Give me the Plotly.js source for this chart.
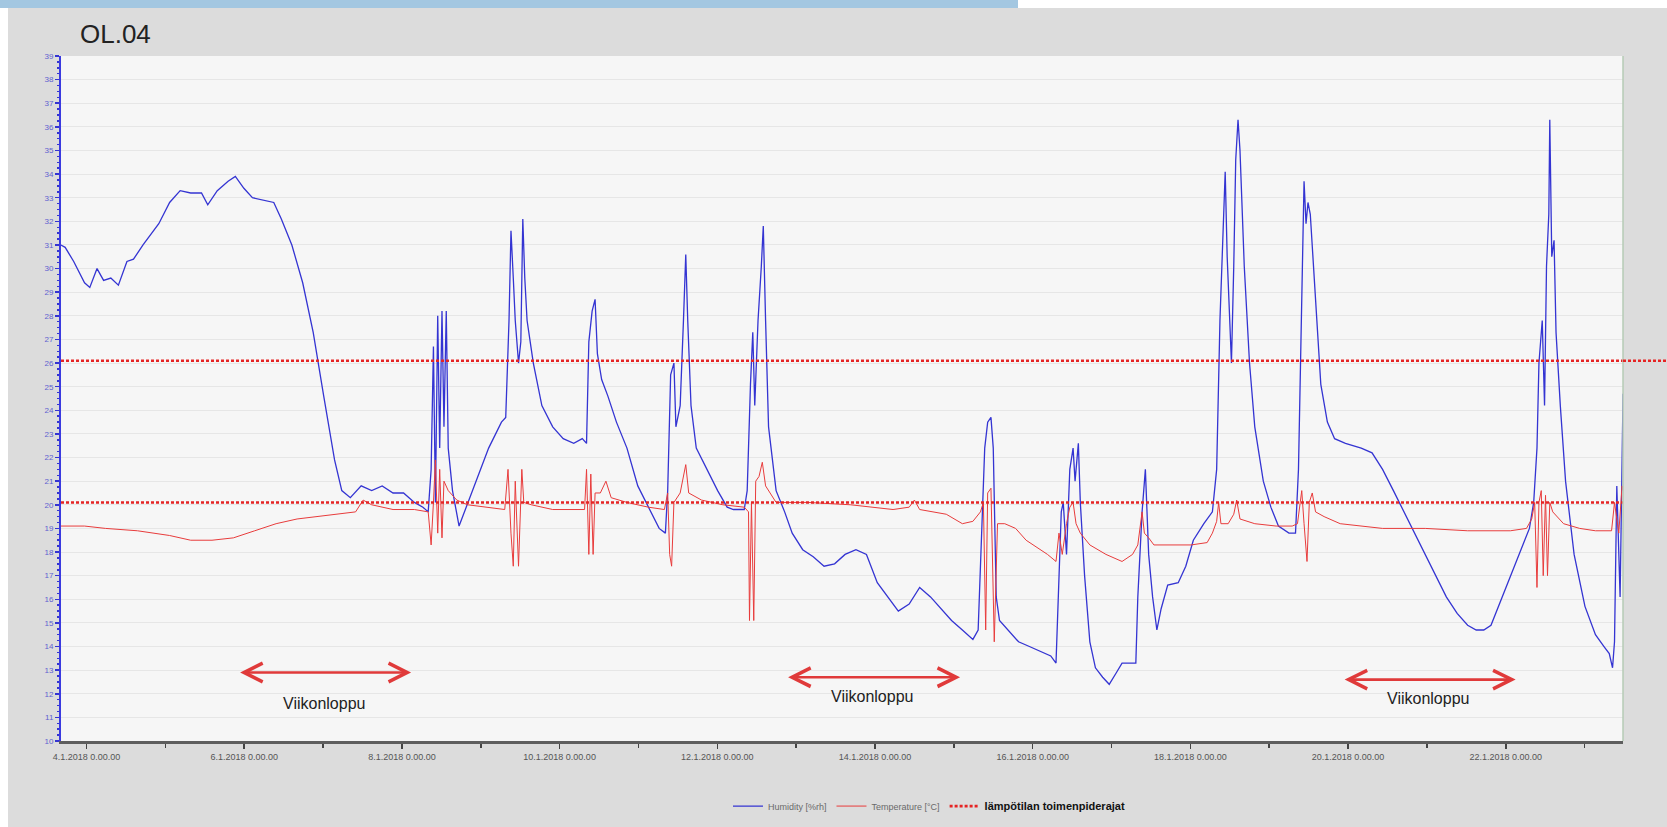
<!DOCTYPE html>
<html>
<head>
<meta charset="utf-8">
<script src="https://cdn.plot.ly/plotly-3.0.1.min.js"></script>
<style>
  html, body { margin: 0; padding: 0; background: #ffffff; width: 1667px; height: 827px; overflow: hidden; }
  #bar { position: absolute; left: 0; top: 0; width: 1018px; height: 8px; background: #a3c7e1; }
  #chart { position: absolute; left: 8px; top: 8px; width: 1659px; height: 819px; }
</style>
</head>
<body>
<div id="bar"></div>
<div id="chart"></div>
<script>
// Hours since 4.1.2018 0:00 and readings
const humHours = [-7.8,-6.5,-3.9,-0.6,1.0,3.2,5.2,7.4,9.7,12.3,14.3,17.2,22.0,25.3,28.5,31.7,35.0,36.9,39.8,43.1,45.3,47.9,50.5,53.8,57.0,59.3,62.5,65.8,69.0,72.2,75.5,77.7,80.3,83.6,86.8,90.0,93.3,96.5,99.8,102.4,104.0,104.9,105.6,106.2,106.9,107.5,108.2,108.8,109.5,110.1,111.4,113.4,117.6,122.4,126.3,127.6,128.6,129.2,129.9,130.5,131.5,132.2,132.8,133.4,134.1,136.0,138.6,141.9,145.1,148.3,150.9,152.2,152.9,153.9,154.8,155.5,156.8,158.7,161.3,164.5,167.8,171.7,174.3,176.2,176.9,177.8,178.8,179.4,180.7,181.7,182.4,183.0,184.0,185.6,188.8,192.1,195.0,196.9,200.2,201.1,202.1,202.8,203.4,204.4,205.4,206.0,206.7,207.6,209.9,212.5,214.8,218.0,221.2,224.5,227.7,230.9,234.2,237.4,240.7,243.9,247.1,250.4,253.6,256.9,260.1,263.3,266.6,269.8,271.4,272.4,273.4,274.3,275.3,276.0,276.9,277.9,280.5,283.7,287.0,290.2,293.5,295.1,296.0,296.7,297.3,298.3,299.3,300.3,300.9,301.9,302.5,303.8,305.4,307.1,309.3,311.3,313.5,315.2,317.4,319.4,320.0,321.3,322.3,323.3,324.5,325.8,327.1,329.1,332.3,334.6,336.9,340.1,342.7,344.0,345.0,345.9,346.6,347.2,347.9,348.5,349.2,349.8,350.5,351.1,352.4,354.0,355.6,358.2,360.5,362.8,366.0,368.0,368.9,369.9,370.6,371.2,371.8,372.5,373.1,374.4,375.7,377.7,379.9,383.2,388.0,391.3,394.5,397.8,401.0,404.2,407.5,410.7,413.9,417.2,420.4,423.0,425.3,427.5,430.1,433.4,436.6,439.2,440.5,441.5,442.1,443.1,443.8,444.4,445.1,445.4,446.0,446.7,447.3,448.6,450.2,452.8,456.1,459.3,461.9,463.5,464.5,465.1,465.8,466.8,467.7];
const humValues = [31.0,30.9,30.3,29.4,29.2,30.0,29.5,29.6,29.3,30.3,30.4,31.0,31.9,32.8,33.3,33.2,33.2,32.7,33.3,33.7,33.9,33.4,33.0,32.9,32.8,32.1,31.0,29.4,27.3,24.6,21.9,20.6,20.3,20.8,20.6,20.8,20.5,20.5,20.1,19.9,19.7,21.5,26.7,20.1,28.0,22.4,28.2,23.3,28.2,22.4,20.6,19.1,20.6,22.4,23.5,23.7,27.8,31.6,29.6,27.8,26.0,26.9,32.1,29.6,27.8,26.0,24.2,23.3,22.8,22.6,22.8,22.6,26.9,28.2,28.7,26.4,25.3,24.6,23.5,22.4,20.8,19.7,19.0,18.8,20.6,25.5,26.0,23.3,24.2,27.8,30.6,27.8,24.2,22.4,21.5,20.6,19.9,19.8,19.8,20.6,25.1,27.3,24.2,27.8,30.1,31.8,27.8,23.3,20.6,19.7,18.8,18.1,17.8,17.4,17.5,17.9,18.1,17.9,16.7,16.1,15.5,15.8,16.5,16.1,15.6,15.1,14.7,14.3,14.7,18.8,22.4,23.5,23.7,22.4,16.1,15.1,14.7,14.2,14.0,13.8,13.6,13.3,16.5,19.7,20.1,17.9,21.5,22.4,21.0,22.6,20.1,17.0,14.2,13.1,12.7,12.4,12.9,13.3,13.3,13.3,16.1,19.7,21.5,17.9,16.1,14.7,15.6,16.6,16.7,17.4,18.5,19.2,19.7,21.5,27.8,31.9,34.1,30.5,28.2,26.0,30.1,34.6,36.3,35.0,30.1,26.0,23.3,21.0,19.9,19.1,18.8,18.8,21.5,29.6,33.7,31.9,32.8,32.3,31.0,27.8,25.1,23.5,22.8,22.6,22.4,22.2,21.5,20.6,19.7,18.8,17.9,17.0,16.1,15.4,14.9,14.7,14.7,14.9,15.8,17.0,18.1,19.0,20.1,22.4,26.0,27.8,24.2,30.1,32.3,36.3,30.5,31.2,27.3,24.2,21.0,17.9,15.7,14.5,14.0,13.7,13.1,14.2,20.8,16.1,24.7];

const tempHours = [-7.8,-0.6,5.8,15.5,25.3,31.7,38.2,44.7,51.2,57.7,64.1,70.6,77.1,81.9,84.2,86.8,93.3,99.8,104.0,104.9,105.6,106.2,106.9,107.5,108.2,108.8,110.1,112.7,116.0,122.4,127.3,128.3,129.2,129.9,130.5,131.5,132.5,133.1,135.4,141.9,151.6,152.2,152.9,153.5,154.2,154.8,156.4,158.1,159.7,164.5,171.0,175.9,176.9,177.5,178.1,178.8,180.7,182.4,183.3,187.2,193.7,200.2,201.5,201.8,202.4,203.1,203.7,204.7,205.7,206.7,209.9,219.6,232.6,245.5,250.4,252.0,253.6,261.7,266.6,269.8,272.1,273.0,273.7,274.3,275.3,276.3,277.3,279.5,282.8,286.0,289.3,292.5,295.1,296.0,297.0,298.3,299.3,300.3,301.2,302.5,305.4,310.3,315.2,318.4,320.0,321.3,322.0,323.3,324.9,329.7,336.2,341.1,342.7,344.0,344.6,345.3,347.5,349.2,350.1,351.1,355.6,362.1,367.0,368.6,369.9,370.6,371.5,372.2,373.1,374.1,376.7,381.6,388.0,394.5,407.5,420.4,433.4,438.3,439.9,440.8,441.5,442.1,442.8,443.4,444.1,444.7,445.4,446.3,449.6,454.5,459.3,464.2,465.1,466.4,467.4,467.7];
const tempValues = [19.1,19.1,19.0,18.9,18.7,18.5,18.5,18.6,18.9,19.2,19.4,19.5,19.6,19.7,20.2,20.0,19.8,19.8,19.7,18.3,20.1,21.9,18.8,21.5,18.6,21.0,20.6,20.2,20.0,19.9,19.8,21.5,18.8,17.4,21.0,17.4,21.5,20.1,20.0,19.8,19.8,21.5,17.9,21.3,17.9,20.5,20.5,21.0,20.3,20.1,19.9,19.8,20.5,17.9,17.4,20.1,20.5,21.7,20.5,20.2,20.0,19.9,19.7,15.1,20.1,15.1,21.0,21.2,21.8,20.8,20.1,20.1,20.0,19.8,19.9,20.2,19.8,19.6,19.2,19.3,19.7,20.1,14.7,20.5,20.7,14.2,19.2,19.2,19.0,18.5,18.2,17.9,17.6,18.8,17.9,19.2,19.9,20.1,19.2,18.8,18.3,17.9,17.6,17.9,18.3,19.7,18.8,18.6,18.3,18.3,18.3,18.4,18.8,19.3,20.1,19.2,19.2,19.6,20.2,19.4,19.2,19.1,19.1,19.2,20.6,19.2,17.6,20.1,20.5,19.7,19.5,19.2,19.1,19.0,19.0,18.9,18.9,19.0,19.4,20.1,16.5,20.1,20.6,17.0,20.4,17.0,20.1,19.7,19.2,19.0,18.9,18.9,20.1,18.8,20.8,20.6];

const thresholdValues = [26.1, 20.1];
const seriesNames = ['Humidity [%rh]', 'Temperature [°C]', 'lämpötilan toimenpiderajat'];

const xStart = '2018-01-03 16:14';
const xEnd = '2018-01-23 11:41';

const BASE = Date.UTC(2018, 0, 4);
function toDate(h) {
  return new Date(BASE + h * 3600000).toISOString().slice(0, 19).replace('T', ' ');
}

const FONT = 'Liberation Sans, Arial, sans-serif';

const traces = [
  {
    x: humHours.map(toDate), y: humValues, type: 'scatter', mode: 'lines',
    name: seriesNames[0], line: { color: '#3434d2', width: 1.3 }
  },
  {
    x: tempHours.map(toDate), y: tempValues, type: 'scatter', mode: 'lines',
    name: seriesNames[1], line: { color: '#e83c3c', width: 1 }
  },
  {
    x: [xStart, xEnd, null, xStart, xEnd],
    y: [thresholdValues[0], thresholdValues[0], null, thresholdValues[1], thresholdValues[1]],
    type: 'scatter', mode: 'lines', connectgaps: false,
    name: '<b><span style="font-size:11px;color:#111">' + seriesNames[2] + '</span></b>',
    line: { color: '#e52424', width: 2.6, dash: '3px,2px' }
  }
];

const arrowStyle = {
  showarrow: true, text: '', axref: 'x', ayref: 'y',
  arrowside: 'end+start', arrowhead: 5, startarrowhead: 5,
  arrowsize: 1.4, startarrowsize: 1.4, arrowwidth: 2.6, arrowcolor: '#e03a3a'
};
const textStyle = { showarrow: false, font: { family: FONT, size: 16, color: '#222' } };

const layout = {
  width: 1659, height: 819,
  paper_bgcolor: '#dcdcdc', plot_bgcolor: '#f6f6f6',
  margin: { l: 52.5, r: 43.5, t: 48, b: 86, autoexpand: false },
  font: { family: FONT },
  title: {
    text: 'OL.04', font: { family: FONT, size: 26, color: '#222' },
    xref: 'container', yref: 'container', x: 0.0434, xanchor: 'left', y: 0.968, yanchor: 'middle'
  },
  showlegend: true,
  legend: {
    orientation: 'h', x: 0.427, xanchor: 'left', y: -0.095, yanchor: 'middle',
    bgcolor: 'rgba(0,0,0,0)', font: { family: FONT, size: 9, color: '#6a6a6a' },
    tracegroupgap: 0
  },
  xaxis: {
    type: 'date', range: [xStart, xEnd],
    tick0: '2018-01-04', dtick: 172800000,
    tickformat: '%-d.%-m.%Y %-H.%M.%S',
    tickfont: { family: FONT, size: 9, color: '#555' },
    ticks: 'outside', ticklen: 5, tickwidth: 1.5, tickcolor: '#444',
    ticklabelstandoff: 1,
    minor: { dtick: 86400000, ticks: 'outside', ticklen: 4, tickcolor: '#444', showgrid: false },
    showgrid: false, zeroline: false,
    showline: true, linecolor: '#5e5e5e', linewidth: 2.5
  },
  yaxis: {
    range: [10, 39], tick0: 10, dtick: 1,
    tickfont: { family: FONT, size: 8, color: '#6060d0' },
    ticks: 'outside', ticklen: 4, tickwidth: 1.5, tickcolor: '#3434d2',
    minor: { dtick: 0.25, ticks: 'outside', ticklen: 2, tickcolor: '#3434d2', showgrid: false },
    showgrid: true, gridcolor: '#e6e6e6', gridwidth: 1,
    zeroline: false, showline: true, linecolor: '#3a3ae0', linewidth: 2
  },
  shapes: [
    { type: 'line', xref: 'paper', yref: 'paper', x0: 1, x1: 1, y0: 0, y1: 1,
      line: { color: '#b6cbb6', width: 1.5 } },
    { type: 'line', xref: 'paper', yref: 'paper', x0: 1, x1: 1.03,
      y0: (thresholdValues[0] - 10) / 29, y1: (thresholdValues[0] - 10) / 29,
      line: { color: '#e52424', width: 2.6, dash: '3px,2px' } }
  ],
  annotations: [
    Object.assign({ x: '2018-01-08 02:48', y: 12.9, ax: '2018-01-05 22:18', ay: 12.9 }, arrowStyle),
    Object.assign({ x: '2018-01-15 01:54', y: 12.7, ax: '2018-01-12 21:06', ay: 12.7 }, arrowStyle),
    Object.assign({ x: '2018-01-22 03:00', y: 12.6, ax: '2018-01-19 22:30', ay: 12.6 }, arrowStyle),
    Object.assign({ x: '2018-01-07 00:12', y: 11.6, text: 'Viikonloppu' }, textStyle),
    Object.assign({ x: '2018-01-13 23:00', y: 11.9, text: 'Viikonloppu' }, textStyle),
    Object.assign({ x: '2018-01-21 00:24', y: 11.8, text: 'Viikonloppu' }, textStyle)
  ]
};

Plotly.newPlot('chart', traces, layout, { displayModeBar: false, staticPlot: true });
</script>
</body>
</html>
